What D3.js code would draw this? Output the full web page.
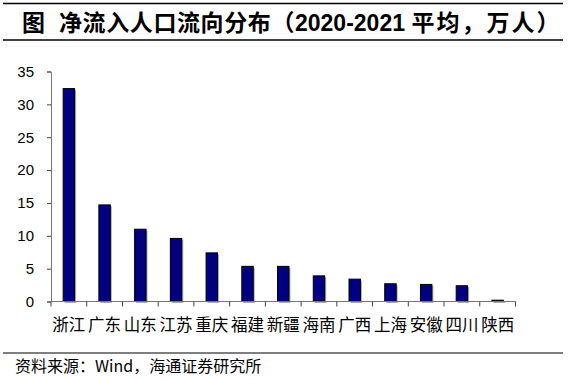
<!DOCTYPE html>
<html><head><meta charset="utf-8">
<script src="https://cdn.jsdelivr.net/npm/d3@7/dist/d3.min.js"></script>
<style>body{margin:0;background:#fff}svg{display:block}</style>
</head><body>
<script>
const categories = ["浙江","广东","山东","江苏","重庆","福建","新疆","海南","广西","上海","安徽","四川","陕西"];
const values = [32.4, 14.7, 11.0, 9.6, 7.4, 5.35, 5.35, 3.9, 3.4, 2.7, 2.6, 2.4, 0.2];
const yTicks = [0,5,10,15,20,25,30,35];

const W = 576, H = 380;
const svg = d3.select("body").append("svg").attr("width", W).attr("height", H);

// title lines
svg.append("line").attr("x1",3).attr("x2",563).attr("y1",3.5).attr("y2",3.5).attr("stroke","#000").attr("stroke-width",1.5);
svg.append("line").attr("x1",3).attr("x2",563).attr("y1",40).attr("y2",40).attr("stroke","#000").attr("stroke-width",1.5);
const t = svg.append("text").attr("x",22).attr("y",31).attr("font-size",23).attr("font-weight","bold")
  .attr("font-family","'Noto Sans CJK SC', sans-serif").attr("fill","#000");
t.append("tspan").text("图");
t.append("tspan").attr("dx",14).attr("letter-spacing",0.6).text("净流入人口流向分布（");
t.append("tspan").attr("font-family","'Liberation Sans', Arial, sans-serif").attr("font-size",23).text("2020-2021 ");
t.append("tspan").attr("letter-spacing",2).text("平均，万人）");

// scales
const x = d3.scaleBand().domain(categories).range([51, 515.5]).paddingInner(0.68).paddingOuter(0.34);
const y = d3.scaleLinear().domain([0,35]).range([301.5, 71.5]);

// bars shadow
svg.append("g").selectAll("rect").data(values).join("rect")
  .attr("x",(d,i)=>x(categories[i])+1.5).attr("y",d=>y(d)+1.5)
  .attr("width",x.bandwidth()).attr("height",d=>y(0)-y(d))
  .attr("fill","#aaa");
svg.append("g").selectAll("rect").data(values).join("rect")
  .attr("x",(d,i)=>x(categories[i])).attr("y",d=>y(d))
  .attr("width",x.bandwidth()).attr("height",d=>y(0)-y(d))
  .attr("fill","#000080").attr("stroke","#000").attr("stroke-width",1);

// y axis
const ya = svg.append("g").attr("transform","translate(51,0)")
  .call(d3.axisLeft(y).tickValues(yTicks).tickSize(4).tickPadding(13));
ya.select(".domain").attr("stroke","#777");
ya.selectAll(".tick line").attr("stroke","#444");
ya.selectAll("text").attr("font-family","'Liberation Sans', Arial, sans-serif").attr("font-size",15).attr("fill","#000");

// x axis
const step = x.step();
const xa = svg.append("g").attr("transform",`translate(0,${y(0)})`);
xa.append("line").attr("x1",51).attr("x2",515.5).attr("stroke","#777");
xa.selectAll("line.tk").data(d3.range(categories.length+1)).join("line").attr("class","tk")
  .attr("x1",i=>51+i*step).attr("x2",i=>51+i*step).attr("y1",0).attr("y2",5).attr("stroke","#444");
xa.selectAll("text").data(categories).join("text")
  .attr("x",d=>x(d)+x.bandwidth()/2).attr("y",29).attr("text-anchor","middle")
  .attr("font-family","'Noto Sans CJK SC', sans-serif").attr("font-size",16.5).attr("fill","#000").text(d=>d);

// footer
svg.append("line").attr("x1",3).attr("x2",563).attr("y1",353).attr("y2",353).attr("stroke","#000").attr("stroke-width",1.2);
svg.append("text").attr("x",15).attr("y",372).attr("font-family","'Noto Sans CJK SC', sans-serif")
  .attr("font-size",16).attr("fill","#000").text("资料来源：Wind，海通证券研究所");
</script>
</body></html>
